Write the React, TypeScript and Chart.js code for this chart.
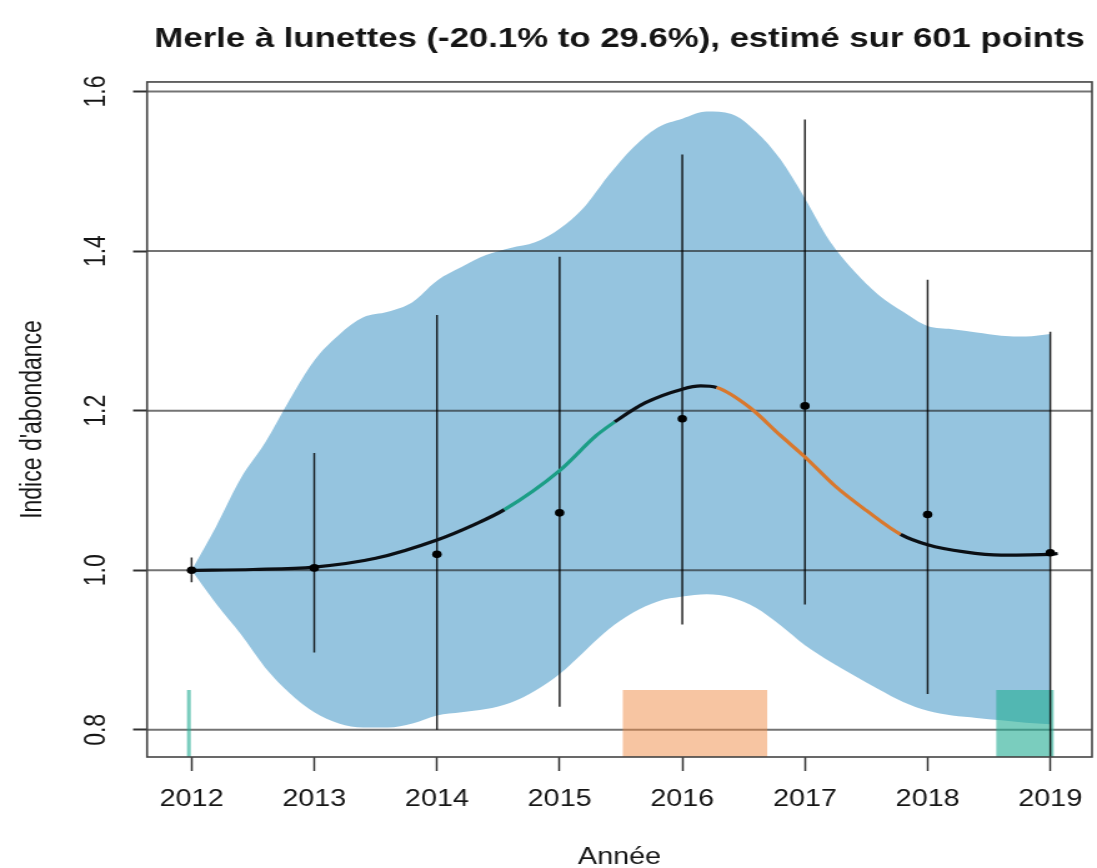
import React, { useEffect, useRef } from 'react';
import { Chart, registerables } from 'chart.js';

Chart.register(...registerables);

// ---- Text ----
const TITLE = 'Merle à lunettes (-20.1% to 29.6%), estimé sur 601 points';
const X_TITLE = 'Année';
const Y_TITLE = "Indice d'abondance";

// ---- Axes ----
const years = [2012, 2013, 2014, 2015, 2016, 2017, 2018, 2019];
const yTicks = [0.8, 1.0, 1.2, 1.4, 1.6];
const X_MIN = 2011.637;
const X_MAX = 2019.34;
const Y_MIN = 0.766;
const Y_MAX = 1.612;

// ---- Yearly estimates with error bars ----
const pointValues = [1.0, 1.003, 1.02, 1.072, 1.19, 1.206, 1.07, 1.022];
const barLow = [0.985, 0.897, 0.8, 0.829, 0.932, 0.957, 0.845, 0.74];
const barHigh = [1.016, 1.147, 1.32, 1.393, 1.521, 1.565, 1.364, 1.299];

// ---- Confidence ribbon ----
const ribbonX = [
  2012.0, 2012.2, 2012.4, 2012.6, 2012.8, 2013.0, 2013.2, 2013.4, 2013.6, 2013.8,
  2014.0, 2014.2, 2014.4, 2014.6, 2014.8, 2015.0, 2015.2, 2015.4, 2015.6, 2015.8,
  2016.0, 2016.2, 2016.4, 2016.6, 2016.8, 2017.0, 2017.2, 2017.4, 2017.6, 2017.8,
  2018.0, 2018.2, 2018.4, 2018.6, 2018.8, 2019.0,
];
const ribbonUpper = [
  1.0, 1.055, 1.115, 1.16, 1.214, 1.263, 1.295, 1.317, 1.324, 1.336,
  1.363, 1.38, 1.395, 1.404, 1.411, 1.428, 1.455, 1.495, 1.53, 1.555,
  1.566, 1.575, 1.572, 1.55, 1.515, 1.466, 1.413, 1.375, 1.345, 1.324,
  1.306, 1.302, 1.298, 1.294, 1.293, 1.296,
];
const ribbonLower = [
  1.0, 0.958, 0.92, 0.878, 0.846, 0.822, 0.808, 0.803, 0.803, 0.808,
  0.818, 0.822, 0.826, 0.834, 0.849, 0.87, 0.898, 0.926, 0.947, 0.961,
  0.967, 0.97, 0.966, 0.953, 0.931, 0.906, 0.886, 0.868, 0.851, 0.835,
  0.824, 0.818, 0.815, 0.812, 0.809, 0.807,
];

// ---- Smoothed trend ----
const curveX = [
  2012.0, 2012.5, 2013.0, 2013.5, 2014.0, 2014.3, 2014.55, 2015.0, 2015.3, 2015.45,
  2015.7, 2016.0, 2016.15, 2016.28, 2016.55, 2016.8, 2017.0, 2017.25, 2017.5, 2017.78,
  2018.0, 2018.3, 2018.6, 2019.0, 2019.06,
];
const curveY = [
  1.0, 1.001, 1.004, 1.015, 1.038, 1.057, 1.076, 1.125, 1.169, 1.186,
  1.21, 1.227, 1.231, 1.229, 1.204, 1.169, 1.142, 1.105, 1.075, 1.045,
  1.032, 1.023, 1.019, 1.02, 1.021,
];
const increaseRange = [2014.55, 2015.45];
const decreaseRange = [2016.28, 2017.78];

// ---- Significant-period rectangles ----
const rectTop = 0.85;
const rectStarts = [2011.96, 2015.513, 2018.558];
const rectEnds = [2011.995, 2016.694, 2019.03];
const rectKinds = ['increase', 'decrease', 'increase'];

// ---- Styles ----
const FONT = 'Liberation Sans, Arial, Helvetica, sans-serif';
const TEXT = '#151515';
const RIBBON = '#95c4df';
const TEAL = '#1b9e86';
const ORANGE = '#d9782d';
const RECT_COLORS: Record<string, string> = {
  increase: 'rgba(40,175,150,0.62)',
  decrease: 'rgba(240,140,70,0.5)',
};

const CANVAS_W = 878;
const CANVAS_H = 868;
const CSS_W = 1097;

const boxPlugin = {
  id: 'plotBox',
  afterDraw(chart: any) {
    const { ctx, chartArea: a } = chart;
    ctx.save();
    ctx.strokeStyle = '#444';
    ctx.lineWidth = 1.6;
    ctx.strokeRect(a.left, a.top, a.right - a.left, a.bottom - a.top);
    ctx.restore();
  },
};

export default function App() {
  const ref = useRef<HTMLCanvasElement>(null);

  useEffect(() => {
    const canvas = ref.current;
    if (!canvas) return;

    const pts = years.map((x, i) => ({ x, y: pointValues[i] }));
    const bars: any[] = [];
    years.forEach((x, i) => {
      bars.push({ x, y: barLow[i] }, { x, y: barHigh[i] }, { x, y: null });
    });
    const grid: any[] = [];
    yTicks.forEach((v) => {
      grid.push({ x: X_MIN, y: v }, { x: X_MAX, y: v }, { x: X_MAX, y: null });
    });

    const datasets: any[] = [];
    datasets.push({
      label: 'points',
      data: pts,
      showLine: false,
      pointRadius: 3.8,
      pointBackgroundColor: '#000',
      pointBorderWidth: 0,
      order: 0,
    });
    datasets.push({
      label: 'trend',
      data: curveX.map((x, i) => ({ x, y: curveY[i] })),
      borderColor: '#0b0f14',
      borderWidth: 3.2,
      pointRadius: 0,
      cubicInterpolationMode: 'monotone',
      segment: {
        borderColor: (c: any) => {
          const mid = (c.p0.parsed.x + c.p1.parsed.x) / 2;
          if (mid >= increaseRange[0] && mid <= increaseRange[1]) return TEAL;
          if (mid >= decreaseRange[0] && mid <= decreaseRange[1]) return ORANGE;
          return undefined;
        },
      },
      order: 1,
    });
    datasets.push({
      label: 'errorbars',
      data: bars,
      borderColor: 'rgba(0,0,0,0.85)',
      borderWidth: 1.5,
      pointRadius: 0,
      spanGaps: false,
      order: 2,
    });
    rectStarts.forEach((s, i) => {
      datasets.push({
        label: 'rect' + i,
        data: [
          { x: s, y: rectTop },
          { x: rectEnds[i], y: rectTop },
        ],
        borderWidth: 0,
        pointRadius: 0,
        fill: 'start',
        backgroundColor: RECT_COLORS[rectKinds[i]],
        order: 3,
      });
    });
    datasets.push({
      label: 'grid',
      data: grid,
      borderColor: 'rgba(30,30,30,0.62)',
      borderWidth: 2,
      pointRadius: 0,
      spanGaps: false,
      order: 4,
    });
    const upperIndex = datasets.length;
    datasets.push({
      label: 'upper',
      data: ribbonX.map((x, i) => ({ x, y: ribbonUpper[i] })),
      borderWidth: 0,
      pointRadius: 0,
      cubicInterpolationMode: 'monotone',
      fill: upperIndex + 1,
      backgroundColor: RIBBON,
      order: 5,
    });
    datasets.push({
      label: 'lower',
      data: ribbonX.map((x, i) => ({ x, y: ribbonLower[i] })),
      borderWidth: 0,
      pointRadius: 0,
      cubicInterpolationMode: 'monotone',
      fill: false,
      order: 6,
    });

    const tickFont = { family: FONT, size: 23 };
    const noPad = (s: any) => {
      s.paddingLeft = 0;
      s.paddingRight = 0;
      s.paddingTop = 0;
      s.paddingBottom = 0;
    };

    const chart = new Chart(canvas, {
      type: 'line',
      data: { datasets },
      plugins: [boxPlugin],
      options: {
        responsive: false,
        animation: false,
        devicePixelRatio: 1,
        layout: { padding: { left: 0, right: 3.2, top: 0, bottom: 0 } },
        plugins: {
          legend: { display: false },
          tooltip: { enabled: false },
          title: {
            display: true,
            text: TITLE,
            fullSize: false,
            color: TEXT,
            font: { family: FONT, size: 27.8, weight: 'bold', lineHeight: 1.2 },
            padding: { top: 22.5, bottom: 26.1 },
          },
        },
        scales: {
          x: {
            type: 'linear',
            min: X_MIN,
            max: X_MAX,
            afterBuildTicks: (s: any) => {
              s.ticks = years.map((v) => ({ value: v }));
            },
            afterFit: (s: any) => {
              s.height = 111;
              noPad(s);
            },
            ticks: {
              callback: (v: any) => String(v),
              font: tickFont,
              color: TEXT,
              padding: 15,
              autoSkip: false,
              maxRotation: 0,
            },
            grid: {
              drawOnChartArea: false,
              drawTicks: true,
              tickLength: 14,
              tickColor: '#333',
              tickWidth: 1.5,
            },
            border: { display: false },
            title: {
              display: true,
              text: X_TITLE,
              color: TEXT,
              font: { family: FONT, size: 23, lineHeight: 1 },
              padding: { top: 0, bottom: -1 },
            },
          },
          y: {
            type: 'linear',
            min: Y_MIN,
            max: Y_MAX,
            afterBuildTicks: (s: any) => {
              s.ticks = yTicks.map((v) => ({ value: v }));
            },
            afterFit: (s: any) => {
              s.width = 117.7;
              noPad(s);
            },
            ticks: {
              callback: (v: any) => Number(v).toFixed(1),
              font: tickFont,
              color: TEXT,
              minRotation: 90,
              maxRotation: 90,
              crossAlign: 'center',
              padding: 13,
              autoSkip: false,
            },
            grid: {
              drawOnChartArea: false,
              drawTicks: true,
              tickLength: 11.2,
              tickColor: '#333',
              tickWidth: 2,
            },
            border: { display: false },
            title: {
              display: true,
              text: Y_TITLE,
              color: TEXT,
              font: { family: FONT, size: 23, lineHeight: 1.2 },
              padding: { top: 12.7, bottom: 0 },
            },
          },
        },
      } as any,
    });

    return () => chart.destroy();
  }, []);

  return (
    <div style={{ position: 'fixed', left: 0, top: 0, width: CSS_W, height: CANVAS_H, background: '#fff' }}>
      <canvas
        ref={ref}
        width={CANVAS_W}
        height={CANVAS_H}
        style={{ width: CSS_W + 'px', height: CANVAS_H + 'px', display: 'block' }}
      />
    </div>
  );
}
